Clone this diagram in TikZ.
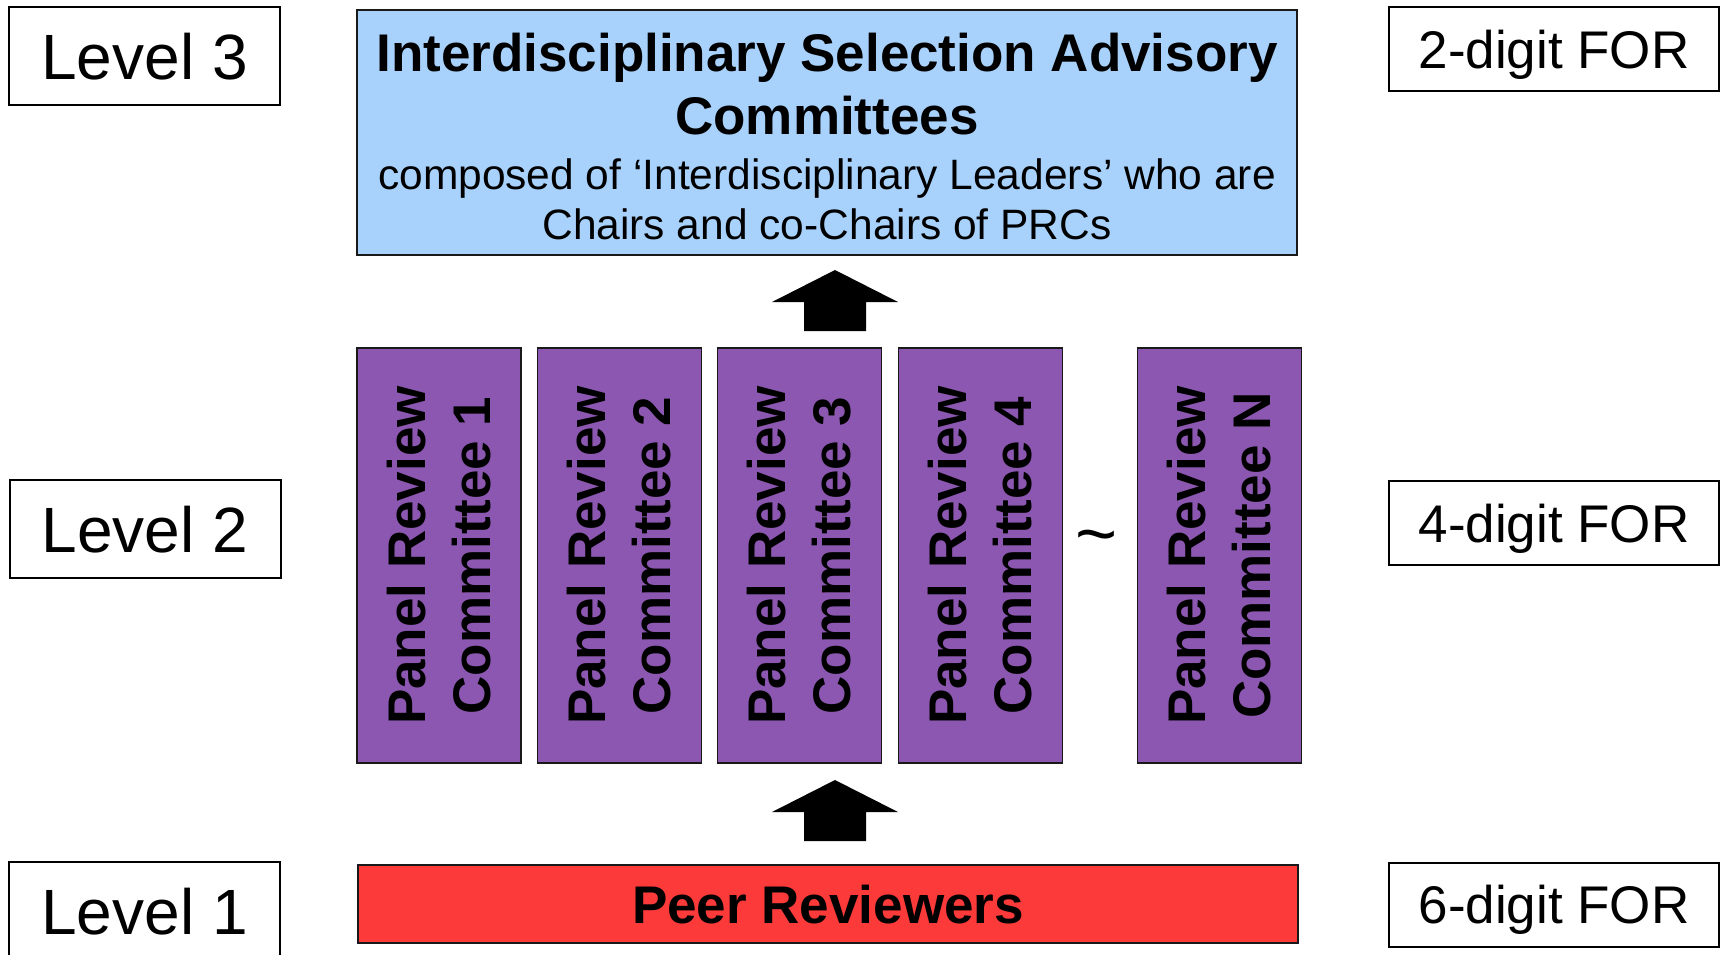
\documentclass[tikz,border=0pt]{standalone}
\usepackage{fontspec}
\setmainfont{Liberation Sans}
\definecolor{isacblue}{HTML}{A8D2FC}
\definecolor{prcpurple}{HTML}{8C57B0}
\definecolor{peerred}{HTML}{FC3A3A}
\begin{document}
\begin{tikzpicture}[x=1pt,y=-1pt,
  lvl/.style={draw=black,line width=2pt,fill=white,minimum width=271pt,minimum height=98pt,inner sep=0pt,
    font=\fontsize{64}{70}\selectfont,text height=46pt,text depth=0pt},
  forbox/.style={draw=black,line width=2pt,fill=white,minimum width=330pt,minimum height=84pt,inner sep=0pt,
    font=\fontsize{53}{60}\selectfont,text height=38pt,text depth=0pt},
  bluebox/.style={draw=black!90,line width=2.5pt,fill=isacblue,minimum width=940pt,minimum height=245pt,inner sep=0pt},
  pbox/.style={draw=black!90,line width=1.8pt,fill=prcpurple,rotate=90,minimum width=415pt,minimum height=164pt,inner sep=0pt,
    align=center,font=\fontsize{53}{65}\selectfont\bfseries},
  peerbox/.style={draw=black!90,line width=2pt,fill=peerred,minimum width=940pt,minimum height=78pt,inner sep=0pt,
    font=\fontsize{53}{60}\selectfont\bfseries,text height=38pt,text depth=0pt},
  uparrow/.pic={\fill[black] (0,0) -- (63,32) -- (31,32) -- (31,61) -- (-31,61) -- (-31,32) -- (-63,32) -- cycle;}
]
\useasboundingbox (0,0) rectangle (1721,954);

% level boxes
\node[lvl] (l3) at (144.5,56) {Level 3};
\node[lvl] (l2) at (145,529) {Level 2};
\node[lvl] (l1) at (144.5,911) {Level 1};

% FOR boxes
\node[forbox] (f2) at (1554,49) {2-digit FOR};
\node[forbox] (f4) at (1554,523) {4-digit FOR};
\node[forbox] (f6) at (1554,904.5) {6-digit FOR};

% top box
\node[bluebox] (isac) at (827,132.5) {};
\node[anchor=base,inner sep=0pt,font=\fontsize{53}{60}\selectfont\bfseries] (t1) at (827,71) {Interdisciplinary Selection Advisory};
\node[anchor=base,inner sep=0pt,font=\fontsize{53}{60}\selectfont\bfseries] (t2) at (827,134) {Committees};
\node[anchor=base,inner sep=0pt,font=\fontsize{42.5}{50}\selectfont] (s1) at (827,189) {composed of ‘Interdisciplinary Leaders’ who are};
\node[anchor=base,inner sep=0pt,font=\fontsize{42.5}{50}\selectfont] (s2) at (827,239) {Chairs and co-Chairs of PRCs};

% panel review committees
\node[pbox] (p1) at (439,555.5) {Panel Review\\Committee 1};
\node[pbox] (p2) at (619.5,555.5) {Panel Review\\Committee 2};
\node[pbox] (p3) at (799.5,555.5) {Panel Review\\Committee 3};
\node[pbox] (p4) at (980.5,555.5) {Panel Review\\Committee 4};
\node[pbox] (pn) at (1219.5,555.5) {Panel Review\\Committee N};
\node[anchor=base,inner sep=0pt,font=\fontsize{72}{80}\selectfont] (tld) at (1097,558) {\textasciitilde};

% peer reviewers
\node[peerbox] (peer) at (828,904) {Peer Reviewers};

% block arrows
\pic at (835,270) {uparrow};
\pic at (835,780) {uparrow};
\end{tikzpicture}
\end{document}
